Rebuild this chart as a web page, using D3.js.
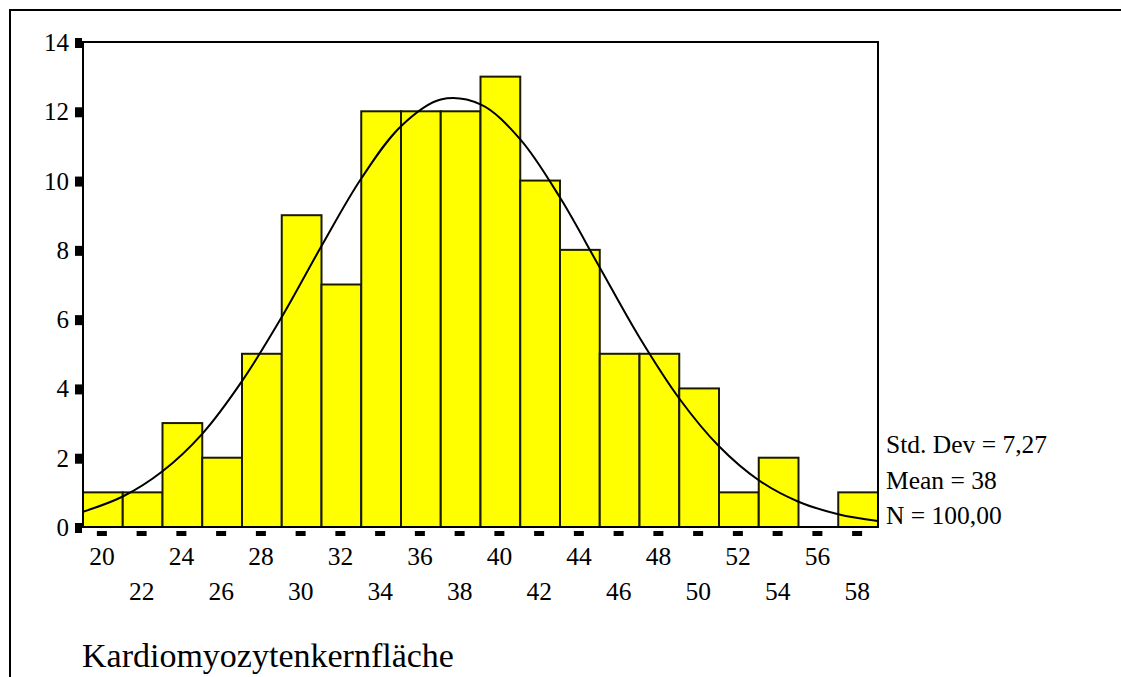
<!DOCTYPE html>
<html><head><meta charset="utf-8">
<script src="https://cdn.jsdelivr.net/npm/d3@7"></script>
<style>body{margin:0;background:#fff}svg{display:block}text{font-family:"Liberation Serif","Times New Roman",serif}</style>
</head><body>
<svg id="c" width="1121" height="677"></svg>
<script>
// Data
const binCenters = [20,22,24,26,28,30,32,34,36,38,40,42,44,46,48,50,52,54,56,58];
const counts     = [1,1,3,2,5,9,7,12,12,12,13,10,8,5,5,4,1,2,0,1];
const yTicks = [0,2,4,6,8,10,12,14];
const curveX = [19,21,23,25,27,29,31,33,35,37,39,41,43,45,47,49,51,53,55,57,59];
const curveY = [0.44,0.88,1.61,2.69,4.21,6.06,8.11,10.06,11.57,12.34,12.20,11.19,9.51,7.49,5.47,3.71,2.33,1.35,0.73,0.37,0.17];
const statLines = ["Std. Dev = 7,27","Mean = 38","N = 100,00"];
const axisTitle = "Kardiomyozytenkernfläche";
const binWidth = 2;

const svg = d3.select("#c");
const x = d3.scaleLinear().domain([19,59]).range([83,878]);
const y = d3.scaleLinear().domain([0,14]).range([527,42]);

// outer frame (left and top visible)
svg.append("path").attr("d","M10,677 L10,10 L1121,10")
  .attr("fill","none").attr("stroke","#000").attr("stroke-width",2);

// bars
svg.append("g").selectAll("rect").data(binCenters).join("rect")
  .attr("x",(d)=>x(d-binWidth/2))
  .attr("y",(d,i)=>y(counts[i]))
  .attr("width",(d)=>x(d+binWidth/2)-x(d-binWidth/2))
  .attr("height",(d,i)=>y(0)-y(counts[i]))
  .attr("fill","#ffff00").attr("stroke","#1a1a00").attr("stroke-width",2);

// fitted curve
const line = d3.line().x((d,i)=>x(curveX[i])).y(d=>y(d)).curve(d3.curveCatmullRom);
svg.append("path").attr("d",line(curveY)).attr("fill","none").attr("stroke","#000").attr("stroke-width",2);

// plot frame
svg.append("rect").attr("x",x(19)).attr("y",y(14)).attr("width",x(59)-x(19)).attr("height",y(0)-y(14))
  .attr("fill","none").attr("stroke","#000").attr("stroke-width",2);

// y ticks
const gy = svg.append("g");
gy.selectAll("rect").data(yTicks).join("rect")
  .attr("x",x(19)-8).attr("y",d=>y(d)-4).attr("width",7).attr("height",10).attr("fill","#000");
gy.selectAll("text").data(yTicks).join("text")
  .attr("x",69).attr("y",d=>y(d)+9).attr("text-anchor","end")
  .attr("font-size",25).text(d=>d);

// x ticks
const gx = svg.append("g");
gx.selectAll("rect").data(binCenters).join("rect")
  .attr("x",d=>x(d)-6).attr("y",y(0)+4).attr("width",10).attr("height",5).attr("fill","#000");
gx.selectAll("text").data(binCenters).join("text")
  .attr("x",d=>x(d)-1).attr("y",(d,i)=>i%2===0?565:600).attr("text-anchor","middle")
  .attr("font-size",25.5).text(d=>d);

// stats
svg.append("g").selectAll("text").data(statLines).join("text")
  .attr("x",886).attr("y",(d,i)=>453+i*35.5)
  .attr("font-size",25.5).text(d=>d);

// axis title
svg.append("text").attr("x",82).attr("y",667).attr("font-size",34).text(axisTitle);
</script>
</body></html>
